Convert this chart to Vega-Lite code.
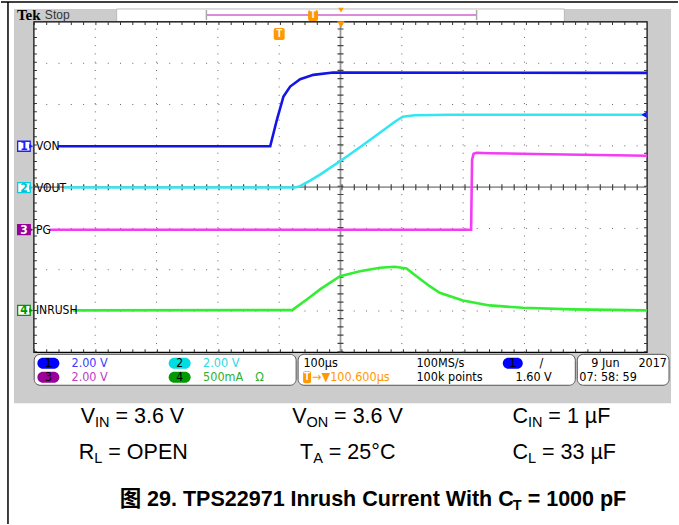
{
  "$schema": "https://vega.github.io/schema/vega-lite/v6.json",
  "width": 679,
  "height": 525,
  "autosize": {"type": "fit", "contains": "padding"},
  "padding": 0,
  "background": "white",
  "config": {"view": {"stroke": null}},
  "datasets": {
    "traces": [
      {"ch": "1", "t": 39.02, "v": 4.99},
      {"ch": "1", "t": 385.37, "v": 4.99},
      {"ch": "1", "t": 396.26, "v": 5.631},
      {"ch": "1", "t": 406.99, "v": 6.195},
      {"ch": "1", "t": 417.89, "v": 6.436},
      {"ch": "1", "t": 434.15, "v": 6.615},
      {"ch": "1", "t": 455.77, "v": 6.719},
      {"ch": "1", "t": 487.8, "v": 6.775},
      {"ch": "1", "t": 1000, "v": 6.767},
      {"ch": "2", "t": 48.78, "v": 3.99},
      {"ch": "2", "t": 426.02, "v": 3.99},
      {"ch": "2", "t": 434.15, "v": 4.024},
      {"ch": "2", "t": 450.41, "v": 4.157},
      {"ch": "2", "t": 466.67, "v": 4.302},
      {"ch": "2", "t": 499.19, "v": 4.628},
      {"ch": "2", "t": 531.71, "v": 4.967},
      {"ch": "2", "t": 564.23, "v": 5.317},
      {"ch": "2", "t": 588.62, "v": 5.583},
      {"ch": "2", "t": 601.63, "v": 5.704},
      {"ch": "2", "t": 621.14, "v": 5.74},
      {"ch": "2", "t": 678.05, "v": 5.752},
      {"ch": "2", "t": 1000, "v": 5.752},
      {"ch": "3", "t": 26.02, "v": 2.97},
      {"ch": "3", "t": 713.01, "v": 2.97},
      {"ch": "3", "t": 714.6, "v": 4.665},
      {"ch": "3", "t": 717.07, "v": 4.81},
      {"ch": "3", "t": 721.95, "v": 4.834},
      {"ch": "3", "t": 743.09, "v": 4.822},
      {"ch": "3", "t": 840.65, "v": 4.798},
      {"ch": "3", "t": 1000, "v": 4.761},
      {"ch": "4", "t": 63.41, "v": 1.015},
      {"ch": "4", "t": 421.14, "v": 1.022},
      {"ch": "4", "t": 445.04, "v": 1.281},
      {"ch": "4", "t": 466.67, "v": 1.523},
      {"ch": "4", "t": 499.19, "v": 1.844},
      {"ch": "4", "t": 531.71, "v": 1.965},
      {"ch": "4", "t": 564.23, "v": 2.047},
      {"ch": "4", "t": 588.62, "v": 2.071},
      {"ch": "4", "t": 607.64, "v": 2.03},
      {"ch": "4", "t": 623.9, "v": 1.844},
      {"ch": "4", "t": 645.53, "v": 1.602},
      {"ch": "4", "t": 661.79, "v": 1.443},
      {"ch": "4", "t": 699.68, "v": 1.257},
      {"ch": "4", "t": 743.09, "v": 1.136},
      {"ch": "4", "t": 797.24, "v": 1.08},
      {"ch": "4", "t": 878.54, "v": 1.039},
      {"ch": "4", "t": 1000, "v": 1.015}
    ],
    "boxes": [
      {"k": "panel", "t": -32.52, "t2": 1039.02, "v": 8.3142, "v2": -1.2326},
      {"k": "hdr", "t": 134.96, "t2": 865.04, "v": 8.3142, "v2": 8.0121},
      {"k": "grat", "t": 0, "t2": 1000, "v": 0, "v2": 8},
      {"k": "info", "t": 0.5, "t2": 427.64, "v": -0.0483, "v2": -0.7976},
      {"k": "info", "t": 430.89, "t2": 882.93, "v": -0.0483, "v2": -0.7976},
      {"k": "info", "t": 886.18, "t2": 1035.77, "v": -0.0483, "v2": -0.7976},
      {"k": "ell", "ch": "1", "t": 5.69, "t2": 41.47, "v": -0.133, "v2": -0.3988},
      {"k": "ell", "ch": "3", "t": 5.69, "t2": 41.47, "v": -0.4713, "v2": -0.7371},
      {"k": "ell", "ch": "2", "t": 219.83, "t2": 255.61, "v": -0.133, "v2": -0.3988},
      {"k": "ell", "ch": "4", "t": 219.83, "t2": 255.61, "v": -0.4713, "v2": -0.7371},
      {"k": "ell", "ch": "1", "t": 764.71, "t2": 797.23, "v": -0.133, "v2": -0.3988},
      {"k": "mk", "ch": "1", "t": -26.5, "t2": -6.0, "v": 5.111, "v2": 4.869},
      {"k": "mk", "ch": "2", "t": -26.5, "t2": -6.0, "v": 4.111, "v2": 3.869},
      {"k": "mk", "ch": "3", "t": -26.5, "t2": -6.0, "v": 3.091, "v2": 2.849},
      {"k": "mk", "ch": "4", "t": -26.5, "t2": -6.0, "v": 1.136, "v2": 0.894},
      {"k": "ot", "t": 391.06, "t2": 408.94, "v": 7.855, "v2": 7.565},
      {"k": "ot", "t": 447.15, "t2": 463.41, "v": 8.29, "v2": 8.024},
      {"k": "ot", "t": 439.02, "t2": 452.03, "v": -0.4592, "v2": -0.7492}
    ],
    "rules": [
      {"k": "gv", "t": 100, "t2": 100, "v": 0, "v2": 8},
      {"k": "gv", "t": 200, "t2": 200, "v": 0, "v2": 8},
      {"k": "gv", "t": 300, "t2": 300, "v": 0, "v2": 8},
      {"k": "gv", "t": 400, "t2": 400, "v": 0, "v2": 8},
      {"k": "gv", "t": 600, "t2": 600, "v": 0, "v2": 8},
      {"k": "gv", "t": 700, "t2": 700, "v": 0, "v2": 8},
      {"k": "gv", "t": 800, "t2": 800, "v": 0, "v2": 8},
      {"k": "gv", "t": 900, "t2": 900, "v": 0, "v2": 8},
      {"k": "gh", "t": 0, "t2": 1000, "v": 1, "v2": 1},
      {"k": "gh", "t": 0, "t2": 1000, "v": 2, "v2": 2},
      {"k": "gh", "t": 0, "t2": 1000, "v": 3, "v2": 3},
      {"k": "gh", "t": 0, "t2": 1000, "v": 5, "v2": 5},
      {"k": "gh", "t": 0, "t2": 1000, "v": 6, "v2": 6},
      {"k": "gh", "t": 0, "t2": 1000, "v": 7, "v2": 7},
      {"k": "cl", "t": 0, "t2": 1000, "v": 4, "v2": 4},
      {"k": "cl", "t": 500, "t2": 500, "v": 0, "v2": 8},
      {"k": "cth", "t": 0, "t2": 1000, "v": 4, "v2": 4},
      {"k": "ctv", "t": 500, "t2": 500, "v": 0, "v2": 8},
      {"k": "bth", "t": 0, "t2": 1000, "v": 7.964, "v2": 7.964},
      {"k": "bth", "t": 0, "t2": 1000, "v": 0.0363, "v2": 0.0363},
      {"k": "btv", "t": 2.44, "t2": 2.44, "v": 0, "v2": 8},
      {"k": "btv", "t": 997.56, "t2": 997.56, "v": 0, "v2": 8},
      {"k": "rec", "t": 281.3, "t2": 721.95, "v": 8.1692, "v2": 8.1692},
      {"k": "brk", "t": 281.3, "t2": 281.3, "v": 8.29, "v2": 8.048},
      {"k": "brk", "t": 721.95, "t2": 721.95, "v": 8.29, "v2": 8.048},
      {"k": "bord", "t": -53.66, "t2": 1050.41, "v": 8.4834, "v2": 8.4834},
      {"k": "bord", "t": -42.28, "t2": -42.28, "v": 8.4834, "v2": -4.1571}
    ],
    "pts": [
      {"k": "otri", "t": 500.81, "v": 7.94},
      {"k": "otri2", "t": 500.81, "v": 8.285},
      {"k": "barrow", "t": 995.1, "v": 5.752},
      {"k": "mtri", "ch": "1", "t": -4.5, "v": 4.99},
      {"k": "mtri", "ch": "2", "t": -4.5, "v": 3.99},
      {"k": "mtri", "ch": "3", "t": -4.5, "v": 2.97},
      {"k": "mtri", "ch": "4", "t": -4.5, "v": 1.015}
    ],
    "labels": [
      {"k": "lab", "t": 3.25, "v": 4.99, "s": "VON"},
      {"k": "lab", "t": 3.25, "v": 3.99, "s": "VOUT"},
      {"k": "lab", "t": 3.25, "v": 2.97, "s": "PG"},
      {"k": "lab", "t": 3.25, "v": 1.015, "s": "INRUSH"},
      {"k": "mkn", "ch": "1", "t": -16.26, "v": 4.99, "s": "1"},
      {"k": "mkn", "ch": "2", "t": -16.26, "v": 3.99, "s": "2"},
      {"k": "mkn", "ch": "3", "t": -16.26, "v": 2.97, "s": "3"},
      {"k": "mkn", "ch": "4", "t": -16.26, "v": 1.015, "s": "4"},
      {"k": "elln", "t": 23.58, "v": -0.2659, "s": "1"},
      {"k": "elln", "t": 23.58, "v": -0.6042, "s": "3"},
      {"k": "elln", "t": 237.72, "v": -0.2659, "s": "2"},
      {"k": "elln", "t": 237.72, "v": -0.6042, "s": "4"},
      {"k": "elln", "t": 780.97, "v": -0.2659, "s": "1"},
      {"k": "info", "ch": "1", "t": 61.3, "v": -0.2659, "s": "2.00 V"},
      {"k": "info", "ch": "3", "t": 61.3, "v": -0.6042, "s": "2.00 V"},
      {"k": "info", "ch": "2", "t": 275.9, "v": -0.2659, "s": "2.00 V"},
      {"k": "info", "ch": "4", "t": 275.9, "v": -0.6042, "s": "500mA"},
      {"k": "info", "ch": "4", "t": 361.0, "v": -0.6042, "s": "Ω"},
      {"k": "info", "ch": "o", "t": 453.7, "v": -0.6042, "s": "→▼100.600µs"},
      {"k": "info", "ch": "k", "t": 439.5, "v": -0.2659, "s": "100µs"},
      {"k": "info", "ch": "k", "t": 623.9, "v": -0.2659, "s": "100MS/s"},
      {"k": "info", "ch": "k", "t": 623.9, "v": -0.6042, "s": "100k points"},
      {"k": "info", "ch": "k", "t": 824.4, "v": -0.2659, "s": "/"},
      {"k": "info", "ch": "k", "t": 785.4, "v": -0.6042, "s": "1.60 V"},
      {"k": "info", "ch": "k", "t": 908.9, "v": -0.2659, "s": "9 Jun"},
      {"k": "info", "ch": "k", "t": 889.4, "v": -0.6042, "s": "07: 58: 59"},
      {"k": "infor", "t": 1032.5, "v": -0.2659, "s": "2017"},
      {"k": "wt", "t": 400, "v": 7.71, "s": "T"},
      {"k": "wt", "t": 455.28, "v": 8.157, "s": "T"},
      {"k": "wt", "t": 445.5, "v": -0.6042, "s": "T"},
      {"k": "tek", "t": -27.64, "v": 8.1692, "s": "Tek"},
      {"k": "stop", "t": 17.89, "v": 8.1692, "s": "Stop"},
      {"k": "bt", "t": 76.42, "v": -1.571, "s": "V"},
      {"k": "bt", "t": 133.0, "v": -1.571, "s": "= 3.6 V"},
      {"k": "bt", "t": 421.14, "v": -1.571, "s": "V"},
      {"k": "bt", "t": 489.6, "v": -1.571, "s": "= 3.6 V"},
      {"k": "bt", "t": 780.49, "v": -1.571, "s": "C"},
      {"k": "bt", "t": 839.0, "v": -1.571, "s": "= 1 µF"},
      {"k": "bt", "t": 73.17, "v": -2.4411, "s": "R"},
      {"k": "bt", "t": 121.3, "v": -2.4411, "s": "= OPEN"},
      {"k": "bt", "t": 434.15, "v": -2.4411, "s": "T"},
      {"k": "bt", "t": 481.0, "v": -2.4411, "s": "= 25°C"},
      {"k": "bt", "t": 780.49, "v": -2.4411, "s": "C"},
      {"k": "bt", "t": 828.6, "v": -2.4411, "s": "= 33 µF"},
      {"k": "bs", "t": 99.67, "v": -1.7039, "s": "IN"},
      {"k": "bs", "t": 444.39, "v": -1.7039, "s": "ON"},
      {"k": "bs", "t": 805.7, "v": -1.7039, "s": "IN"},
      {"k": "bs", "t": 98.37, "v": -2.574, "s": "L"},
      {"k": "bs", "t": 455.45, "v": -2.574, "s": "A"},
      {"k": "bs", "t": 805.7, "v": -2.574, "s": "L"},
      {"k": "tt", "t": 139.84, "v": -3.577, "s": "图 29. TPS22971 Inrush Current With C"},
      {"k": "tt", "t": 805.2, "v": -3.577, "s": "= 1000 pF"},
      {"k": "ts", "t": 780.98, "v": -3.71, "s": "T"}
    ]
  },
  "encoding": {
    "x": {"field": "t", "type": "quantitative", "scale": {"domain": [-53.66, 1050.41], "nice": false, "zero": false}, "axis": null},
    "y": {"field": "v", "type": "quantitative", "scale": {"domain": [-4.1571, 8.5317], "nice": false, "zero": false}, "axis": null}
  },
  "layer": [
    {"data": {"name": "boxes"}, "transform": [{"filter": "datum.k === 'panel'"}],
     "mark": {"type": "rect", "fill": "#cccccc"},
     "encoding": {"x2": {"field": "t2"}, "y2": {"field": "v2"}}},
    {"data": {"name": "boxes"}, "transform": [{"filter": "datum.k === 'hdr'"}],
     "mark": {"type": "rect", "fill": "#ffffff", "stroke": "#bbbbbb", "strokeWidth": 1},
     "encoding": {"x2": {"field": "t2"}, "y2": {"field": "v2"}}},
    {"data": {"name": "boxes"}, "transform": [{"filter": "datum.k === 'grat'"}],
     "mark": {"type": "rect", "fill": "#ffffff", "stroke": "#000000", "strokeWidth": 1.2},
     "encoding": {"x2": {"field": "t2"}, "y2": {"field": "v2"}}},
    {"data": {"name": "boxes"}, "transform": [{"filter": "datum.k === 'info'"}],
     "mark": {"type": "rect", "fill": "#ffffff", "stroke": "#555555", "strokeWidth": 1, "cornerRadius": 6},
     "encoding": {"x2": {"field": "t2"}, "y2": {"field": "v2"}}},
    {"data": {"name": "boxes"}, "transform": [{"filter": "datum.k === 'ell'"}],
     "mark": {"type": "rect", "cornerRadius": 5.5},
     "encoding": {"x2": {"field": "t2"}, "y2": {"field": "v2"},
       "fill": {"field": "ch", "type": "nominal", "scale": {"domain": ["1", "2", "3", "4"], "range": ["#0000ff", "#00dde0", "#990099", "#009900"]}, "legend": null}}},
    {"data": {"name": "rules"}, "transform": [{"filter": "datum.k === 'gv'"}],
     "mark": {"type": "rule", "color": "#666666", "strokeWidth": 1, "strokeDash": [1, 7.275]},
     "encoding": {"x2": {"field": "t2"}, "y2": {"field": "v2"}}},
    {"data": {"name": "rules"}, "transform": [{"filter": "datum.k === 'gh'"}],
     "mark": {"type": "rule", "color": "#666666", "strokeWidth": 1, "strokeDash": [1, 11.3]},
     "encoding": {"x2": {"field": "t2"}, "y2": {"field": "v2"}}},
    {"data": {"name": "rules"}, "transform": [{"filter": "datum.k === 'cl'"}],
     "mark": {"type": "rule", "color": "#9a9a9a", "strokeWidth": 1.8},
     "encoding": {"x2": {"field": "t2"}, "y2": {"field": "v2"}}},
    {"data": {"name": "rules"}, "transform": [{"filter": "datum.k === 'cth'"}],
     "mark": {"type": "rule", "color": "#444444", "strokeWidth": 6, "strokeDash": [1.2, 11.1]},
     "encoding": {"x2": {"field": "t2"}, "y2": {"field": "v2"}}},
    {"data": {"name": "rules"}, "transform": [{"filter": "datum.k === 'ctv'"}],
     "mark": {"type": "rule", "color": "#444444", "strokeWidth": 6, "strokeDash": [1.2, 7.075]},
     "encoding": {"x2": {"field": "t2"}, "y2": {"field": "v2"}}},
    {"data": {"name": "rules"}, "transform": [{"filter": "datum.k === 'bth'"}],
     "mark": {"type": "rule", "color": "#333333", "strokeWidth": 3, "strokeDash": [1, 11.3]},
     "encoding": {"x2": {"field": "t2"}, "y2": {"field": "v2"}}},
    {"data": {"name": "rules"}, "transform": [{"filter": "datum.k === 'btv'"}],
     "mark": {"type": "rule", "color": "#333333", "strokeWidth": 3, "strokeDash": [1, 7.275]},
     "encoding": {"x2": {"field": "t2"}, "y2": {"field": "v2"}}},
    {"data": {"name": "traces"},
     "mark": {"type": "line", "strokeWidth": 2.6, "interpolate": "linear"},
     "encoding": {"color": {"field": "ch", "type": "nominal", "scale": {"domain": ["1", "2", "3", "4"], "range": ["#1414e6", "#33e6f2", "#f53cf5", "#33ee33"]}, "legend": null}}},
    {"data": {"name": "boxes"}, "transform": [{"filter": "datum.k === 'mk'"}],
     "mark": {"type": "rect", "strokeWidth": 1.3},
     "encoding": {"x2": {"field": "t2"}, "y2": {"field": "v2"},
       "stroke": {"field": "ch", "type": "nominal", "scale": {"domain": ["1", "2", "3", "4"], "range": ["#2020ff", "#00d0e0", "#990099", "#009900"]}, "legend": null},
       "fill": {"field": "ch", "type": "nominal", "scale": {"domain": ["1", "2", "3", "4"], "range": ["#ffffff", "#ffffff", "#990099", "#ffffff"]}, "legend": null}}},
    {"data": {"name": "pts"}, "transform": [{"filter": "datum.k === 'mtri'"}],
     "mark": {"type": "point", "shape": "triangle-right", "filled": true, "size": 22, "opacity": 1},
     "encoding": {"color": {"field": "ch", "type": "nominal", "scale": {"domain": ["1", "2", "3", "4"], "range": ["#2020ff", "#00d0e0", "#990099", "#009900"]}, "legend": null}}},
    {"data": {"name": "labels"}, "transform": [{"filter": "datum.k === 'mkn'"}],
     "mark": {"type": "text", "align": "center", "baseline": "middle", "font": "Liberation Sans Narrow, DejaVu Sans Condensed, sans-serif", "fontSize": 12, "fontWeight": "bold"},
     "encoding": {"text": {"field": "s"},
       "color": {"field": "ch", "type": "nominal", "scale": {"domain": ["1", "2", "3", "4"], "range": ["#2020ff", "#00c0d0", "#ffffff", "#009900"]}, "legend": null}}},
    {"data": {"name": "labels"}, "transform": [{"filter": "datum.k === 'lab'"}],
     "mark": {"type": "text", "align": "left", "baseline": "middle", "font": "Liberation Sans Narrow, DejaVu Sans Condensed, sans-serif", "fontSize": 12, "color": "#000000"},
     "encoding": {"text": {"field": "s"}}},
    {"data": {"name": "rules"}, "transform": [{"filter": "datum.k === 'rec'"}],
     "mark": {"type": "rule", "color": "#cc66cc", "strokeWidth": 1.6},
     "encoding": {"x2": {"field": "t2"}, "y2": {"field": "v2"}}},
    {"data": {"name": "rules"}, "transform": [{"filter": "datum.k === 'brk'"}],
     "mark": {"type": "rule", "color": "#aaaaaa", "strokeWidth": 1.5},
     "encoding": {"x2": {"field": "t2"}, "y2": {"field": "v2"}}},
    {"data": {"name": "boxes"}, "transform": [{"filter": "datum.k === 'ot'"}],
     "mark": {"type": "rect", "fill": "#ff9900", "cornerRadius": 2},
     "encoding": {"x2": {"field": "t2"}, "y2": {"field": "v2"}}},
    {"data": {"name": "pts"}, "transform": [{"filter": "datum.k === 'otri'"}],
     "mark": {"type": "point", "shape": "triangle-down", "filled": true, "size": 55, "color": "#ff9900", "opacity": 1},
     "encoding": {}},
    {"data": {"name": "pts"}, "transform": [{"filter": "datum.k === 'otri2'"}],
     "mark": {"type": "point", "shape": "triangle-down", "filled": true, "size": 30, "color": "#ff9900", "opacity": 1},
     "encoding": {}},
    {"data": {"name": "pts"}, "transform": [{"filter": "datum.k === 'barrow'"}],
     "mark": {"type": "point", "shape": "triangle-left", "filled": true, "size": 40, "color": "#1414e6", "opacity": 1},
     "encoding": {}},
    {"data": {"name": "labels"}, "transform": [{"filter": "datum.k === 'wt'"}],
     "mark": {"type": "text", "align": "center", "baseline": "middle", "font": "Liberation Sans, sans-serif", "fontSize": 10, "fontWeight": "bold", "color": "#ffffff"},
     "encoding": {"text": {"field": "s"}}},
    {"data": {"name": "labels"}, "transform": [{"filter": "datum.k === 'elln'"}],
     "mark": {"type": "text", "align": "center", "baseline": "middle", "font": "Liberation Sans Narrow, DejaVu Sans Condensed, sans-serif", "fontSize": 12, "color": "#000000"},
     "encoding": {"text": {"field": "s"}}},
    {"data": {"name": "labels"}, "transform": [{"filter": "datum.k === 'info'"}],
     "mark": {"type": "text", "align": "left", "baseline": "middle", "font": "Liberation Sans Narrow, DejaVu Sans Condensed, sans-serif", "fontSize": 12.5},
     "encoding": {"text": {"field": "s"},
       "color": {"field": "ch", "type": "nominal", "scale": {"domain": ["1", "2", "3", "4", "k", "o"], "range": ["#3a3aff", "#30d8e0", "#c040c0", "#30b030", "#000000", "#ff9900"]}, "legend": null}}},
    {"data": {"name": "labels"}, "transform": [{"filter": "datum.k === 'infor'"}],
     "mark": {"type": "text", "align": "right", "baseline": "middle", "font": "Liberation Sans Narrow, DejaVu Sans Condensed, sans-serif", "fontSize": 12.5, "color": "#000000"},
     "encoding": {"text": {"field": "s"}}},
    {"data": {"name": "labels"}, "transform": [{"filter": "datum.k === 'tek'"}],
     "mark": {"type": "text", "align": "left", "baseline": "middle", "font": "Liberation Serif, serif", "fontSize": 15, "fontWeight": "bold", "color": "#000000"},
     "encoding": {"text": {"field": "s"}}},
    {"data": {"name": "labels"}, "transform": [{"filter": "datum.k === 'stop'"}],
     "mark": {"type": "text", "align": "left", "baseline": "middle", "font": "Liberation Sans, sans-serif", "fontSize": 12, "color": "#333333"},
     "encoding": {"text": {"field": "s"}}},
    {"data": {"name": "rules"}, "transform": [{"filter": "datum.k === 'bord'"}],
     "mark": {"type": "rule", "color": "#000000", "strokeWidth": 1.5},
     "encoding": {"x2": {"field": "t2"}, "y2": {"field": "v2"}}},
    {"data": {"name": "labels"}, "transform": [{"filter": "datum.k === 'bt'"}],
     "mark": {"type": "text", "align": "left", "baseline": "middle", "font": "Liberation Sans, Arial, sans-serif", "fontSize": 21.5, "color": "#000000"},
     "encoding": {"text": {"field": "s"}}},
    {"data": {"name": "labels"}, "transform": [{"filter": "datum.k === 'bs'"}],
     "mark": {"type": "text", "align": "left", "baseline": "middle", "font": "Liberation Sans, Arial, sans-serif", "fontSize": 14.5, "color": "#000000"},
     "encoding": {"text": {"field": "s"}}},
    {"data": {"name": "labels"}, "transform": [{"filter": "datum.k === 'tt'"}],
     "mark": {"type": "text", "align": "left", "baseline": "middle", "font": "Liberation Sans, Noto Sans CJK SC, sans-serif", "fontSize": 21.5, "fontWeight": "bold", "color": "#000000"},
     "encoding": {"text": {"field": "s"}}},
    {"data": {"name": "labels"}, "transform": [{"filter": "datum.k === 'ts'"}],
     "mark": {"type": "text", "align": "left", "baseline": "middle", "font": "Liberation Sans, sans-serif", "fontSize": 14.5, "fontWeight": "bold", "color": "#000000"},
     "encoding": {"text": {"field": "s"}}}
  ],
  "resolve": {"scale": {"color": "independent", "fill": "independent", "stroke": "independent"}}
}
